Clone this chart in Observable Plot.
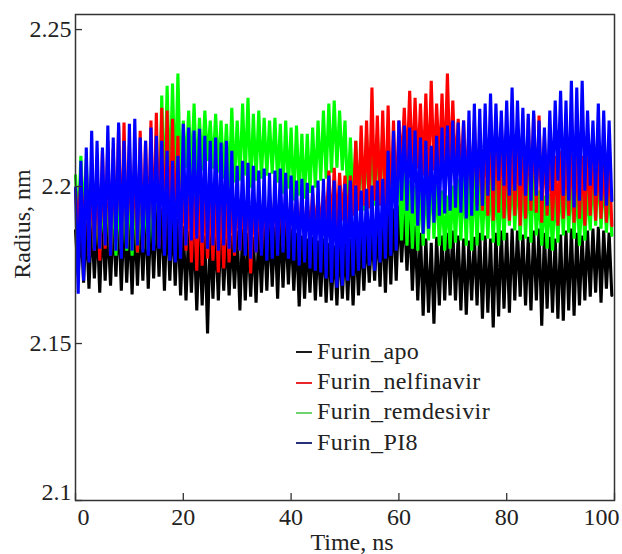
<!DOCTYPE html>
<html><head><meta charset="utf-8">
<script src="https://cdn.jsdelivr.net/npm/d3@7"></script>
<script src="https://cdn.jsdelivr.net/npm/@observablehq/plot@0.6"></script>
<style>
body{margin:0;background:#fff;}
#chart{position:relative;width:622px;height:554px;color:#222;font-family:'Liberation Serif','Times New Roman',serif;}
#chart svg{position:absolute;left:0;top:0;}
.legend{position:absolute;left:296px;top:336px;font-size:24px;letter-spacing:0.4px;}
.legend .row{display:flex;align-items:center;height:30.4px;}
.legend .sw{display:inline-block;width:16px;height:2px;margin-right:5px;margin-top:2px;}
.ylab{position:absolute;left:22px;top:224px;transform:translate(-50%,-50%) rotate(-90deg);font-size:24px;white-space:nowrap;}
.xlab{position:absolute;left:352px;top:542px;transform:translate(-50%,-50%);font-size:24px;white-space:nowrap;}
</style></head><body><div id="chart"></div>
<script>
// Sample times (ns); each sample gives a high and a low excursion
const timeNs = d3.range(0, 100);
const seriesNames = ["Furin_apo", "Furin_nelfinavir", "Furin_remdesivir", "Furin_PI8"];
const seriesColors = ["#000000", "#ff0000", "#00ff00", "#0000ff"];
const legendColors = ["#1a1a1a", "#e8262b", "#6fd46f", "#28307a"];
const xTicks = [0, 20, 40, 60, 80, 100];
const yTicks = [2.1, 2.15, 2.2, 2.25];

const apoHigh = [2.1860,2.1875,2.1885,2.1898,2.1891,2.1907,2.1885,2.1898,2.1917,2.1907,2.1891,2.1898,2.1910,2.1923,2.1917,2.1939,2.1930,2.1923,2.1907,2.1898,
2.1875,2.1860,2.1866,2.1853,2.1844,2.1860,2.1866,2.1872,2.1853,2.1844,2.1860,2.1866,2.1853,2.1840,2.1860,2.1875,2.1885,2.1872,2.1891,2.1879,
2.1866,2.1853,2.1844,2.1834,2.1840,2.1828,2.1834,2.1821,2.1812,2.1828,2.1821,2.1834,2.1844,2.1853,2.1860,2.1866,2.1885,2.1898,2.1917,2.1930,
2.1939,2.1923,2.1907,2.1875,2.1853,2.1834,2.1821,2.1840,2.1844,2.1853,2.1860,2.1844,2.1834,2.1828,2.1840,2.1853,2.1844,2.1834,2.1853,2.1860,
2.1853,2.1866,2.1860,2.1847,2.1840,2.1860,2.1866,2.1853,2.1840,2.1834,2.1847,2.1860,2.1866,2.1853,2.1844,2.1860,2.1866,2.1872,2.1860,2.1853];
const apoLow = [2.1716,2.1694,2.1675,2.1707,2.1662,2.1700,2.1684,2.1713,2.1668,2.1694,2.1656,2.1684,2.1700,2.1675,2.1707,2.1713,2.1668,2.1700,2.1684,2.1653,
2.1637,2.1662,2.1605,2.1621,2.1532,2.1643,2.1637,2.1668,2.1653,2.1675,2.1605,2.1637,2.1649,2.1630,2.1662,2.1668,2.1681,2.1643,2.1678,2.1688,
2.1668,2.1618,2.1643,2.1662,2.1637,2.1649,2.1630,2.1637,2.1621,2.1643,2.1637,2.1621,2.1653,2.1668,2.1694,2.1700,2.1681,2.1662,2.1688,2.1700,
2.1758,2.1732,2.1668,2.1637,2.1589,2.1598,2.1563,2.1621,2.1637,2.1653,2.1637,2.1605,2.1592,2.1637,2.1621,2.1579,2.1598,2.1551,2.1586,2.1611,
2.1598,2.1637,2.1649,2.1621,2.1605,2.1637,2.1557,2.1611,2.1598,2.1579,2.1573,2.1605,2.1589,2.1621,2.1637,2.1649,2.1662,2.1630,2.1675,2.1653];

const nelfHigh = [2.1987,2.2035,2.2066,2.2051,2.2082,2.2114,2.2146,2.2121,2.2194,2.2204,2.2130,2.2114,2.2178,2.2146,2.2210,2.2235,2.2251,2.2242,2.2216,2.2162,
2.2003,2.1987,2.1971,2.1993,2.1980,2.1961,2.1971,2.1987,2.1955,2.1971,2.1980,2.1961,2.1987,2.1971,2.1955,2.1961,2.1971,2.1980,2.1987,2.1971,
2.1971,2.1961,2.1971,2.1955,2.1980,2.1971,2.1987,2.2051,2.2060,2.2044,2.2035,2.2035,2.2146,2.2194,2.2210,2.2315,2.2226,2.2242,2.2258,2.2210,
2.2210,2.2251,2.2305,2.2283,2.2264,2.2296,2.2337,2.2264,2.2296,2.2360,2.2274,2.2216,2.2210,2.2188,2.2210,2.2168,2.2194,2.2232,2.2216,2.2204,
2.2146,2.2162,2.2178,2.2130,2.2216,2.2232,2.2226,2.2162,2.2114,2.2098,2.2114,2.2130,2.2146,2.2114,2.2098,2.2121,2.2130,2.2114,2.2098,2.2114];
const nelfLow = [2.1860,2.1812,2.1780,2.1796,2.1764,2.1802,2.1780,2.1828,2.1796,2.1812,2.1828,2.1790,2.1802,2.1821,2.1834,2.1812,2.1796,2.1828,2.1844,2.1802,
2.1796,2.1758,2.1732,2.1748,2.1770,2.1764,2.1726,2.1739,2.1758,2.1780,2.1796,2.1812,2.1723,2.1790,2.1796,2.1812,2.1828,2.1821,2.1809,2.1828,
2.1834,2.1844,2.1828,2.1853,2.1860,2.1866,2.1875,2.1860,2.1869,2.1891,2.1875,2.1907,2.1923,2.1939,2.1930,2.1955,2.1939,2.1923,2.1917,2.1939,
2.2066,2.2051,2.2044,2.2057,2.2035,2.2025,2.2051,2.2066,2.2044,2.2051,2.2035,2.2019,2.1987,2.1955,2.1939,2.1923,2.1907,2.1891,2.1917,2.1898,
2.1891,2.1907,2.1875,2.1898,2.1923,2.1917,2.1885,2.1907,2.1891,2.1875,2.1898,2.1907,2.1885,2.1898,2.1875,2.1907,2.1891,2.1898,2.1885,2.1875];

const remdHigh = [2.2035,2.2098,2.2089,2.1987,2.1971,2.1980,2.2003,2.1993,2.1971,2.2003,2.2019,2.1987,2.1980,2.1993,2.2012,2.2114,2.2290,2.2321,2.2328,2.2360,
2.2210,2.2242,2.2264,2.2219,2.2242,2.2210,2.2232,2.2210,2.2200,2.2251,2.2210,2.2264,2.2283,2.2232,2.2242,2.2219,2.2210,2.2219,2.2200,2.2210,
2.2188,2.2194,2.2168,2.2168,2.2188,2.2210,2.2242,2.2264,2.2274,2.2242,2.2210,2.2156,2.2146,2.2137,2.2168,2.2178,2.2168,2.2188,2.2156,2.2124,
2.2035,2.2051,2.2019,2.2003,2.2025,2.2035,2.2044,2.2019,2.1987,2.1971,2.2003,2.2025,2.2035,2.2051,2.2057,2.2035,2.2019,2.2044,2.2035,2.2025,
2.2035,2.2044,2.2066,2.2051,2.2057,2.2044,2.1987,2.1971,2.1977,2.2003,2.2035,2.2051,2.2041,2.2019,2.1987,2.2003,2.2051,2.2057,2.2044,2.2003];
const remdLow = [2.1875,2.1891,2.1828,2.1802,2.1796,2.1812,2.1790,2.1780,2.1802,2.1796,2.1780,2.1790,2.1802,2.1796,2.1812,2.1860,2.1955,2.1987,2.1993,2.2003,
2.2060,2.2035,2.2019,2.2051,2.2082,2.2057,2.2044,2.2025,2.1996,2.2012,2.2019,2.2035,2.1996,2.2019,2.2025,2.2035,2.2041,2.2012,2.1977,2.1993,
2.1955,2.1971,2.1961,2.1980,2.1996,2.2019,2.2025,2.2044,2.2060,2.2051,2.1955,2.1939,2.1933,2.1923,2.1933,2.1939,2.1955,2.1961,2.1971,2.1955,
2.1828,2.1812,2.1802,2.1796,2.1812,2.1828,2.1834,2.1812,2.1796,2.1802,2.1821,2.1828,2.1812,2.1796,2.1812,2.1828,2.1834,2.1821,2.1812,2.1828,
2.1875,2.1860,2.1828,2.1834,2.1821,2.1844,2.1812,2.1802,2.1796,2.1821,2.1844,2.1853,2.1834,2.1812,2.1828,2.1860,2.1875,2.1866,2.1853,2.1844];

const pi8High = [2.1996,2.2082,2.2124,2.2178,2.2146,2.2124,2.2194,2.2156,2.2204,2.2146,2.2200,2.2216,2.2156,2.2146,2.2188,2.2162,2.2146,2.2114,2.2082,2.2098,
2.2200,2.2188,2.2178,2.2184,2.2162,2.2146,2.2156,2.2140,2.2146,2.2114,2.2066,2.2082,2.2076,2.2066,2.2051,2.2057,2.2044,2.2051,2.2057,2.2044,
2.2035,2.2019,2.2025,2.2012,2.2003,2.2019,2.2025,2.2035,2.2019,2.2003,2.2009,2.2019,2.2003,2.1987,2.1993,2.2003,2.2019,2.2025,2.2114,2.2178,
2.2210,2.2194,2.2188,2.2178,2.2156,2.2146,2.2130,2.2162,2.2188,2.2194,2.2210,2.2204,2.2210,2.2242,2.2264,2.2248,2.2264,2.2296,2.2264,2.2242,
2.2274,2.2315,2.2274,2.2251,2.2232,2.2242,2.2210,2.2188,2.2242,2.2274,2.2305,2.2274,2.2337,2.2315,2.2337,2.2242,2.2210,2.2264,2.2242,2.2210];
const pi8Low = [2.1659,2.1700,2.1758,2.1796,2.1802,2.1812,2.1780,2.1796,2.1770,2.1802,2.1796,2.1812,2.1790,2.1780,2.1796,2.1802,2.1780,2.1764,2.1758,2.1770,
2.1812,2.1828,2.1834,2.1821,2.1802,2.1812,2.1796,2.1812,2.1802,2.1790,2.1796,2.1780,2.1770,2.1790,2.1780,2.1764,2.1770,2.1780,2.1790,2.1770,
2.1764,2.1748,2.1758,2.1739,2.1732,2.1726,2.1707,2.1694,2.1678,2.1684,2.1700,2.1716,2.1732,2.1739,2.1748,2.1732,2.1758,2.1770,2.1780,2.1796,
2.1955,2.1923,2.1914,2.1875,2.1850,2.1866,2.1885,2.1907,2.1914,2.1923,2.1933,2.1917,2.1898,2.1907,2.1923,2.1939,2.1971,2.1987,2.2019,2.2003,
2.1971,2.1987,2.2003,2.1971,2.1955,2.1971,2.1955,2.1939,2.1987,2.2019,2.1971,2.1955,2.1933,2.1955,2.1987,2.2003,2.1971,2.1955,2.1939,2.1955];

const highs = [apoHigh, nelfHigh, remdHigh, pi8High];
const lows = [apoLow, nelfLow, remdLow, pi8Low];

// zigzag through each sample's high then low excursion
function zigRows(k) {
  const out = [];
  timeNs.forEach((t, i) => {
    out.push({time: t, radius: highs[k][i]});
    out.push({time: t + 0.5, radius: lows[k][i]});
  });
  return out;
}

const SERIF = "'Liberation Serif', 'Times New Roman', serif";
const drawOrder = [0, 2, 1, 3];
const fs = 24;
const fmt = d => String(d);
const plot = Plot.plot({
  width: 622, height: 554,
  marginLeft: 75, marginRight: 8, marginTop: 14, marginBottom: 54,
  x: {domain: [0, 100]},
  y: {domain: [2.1, 2.2548]},
  style: {fontFamily: SERIF, fontSize: fs + "px", color: "#222", background: "transparent"},
  marks: [
    ...drawOrder.map(k => Plot.line(zigRows(k), {x: "time", y: "radius", stroke: seriesColors[k], strokeWidth: 3.1, strokeLinejoin: "miter", strokeMiterlimit: 1})),
    Plot.frame({stroke: "#333", strokeWidth: 1.5}),
    Plot.tickX(xTicks, {x: d => d, insetTop: 479, stroke: "#333", strokeWidth: 1.3}),
    Plot.tickY(yTicks, {y: d => d, insetRight: 532, stroke: "#333", strokeWidth: 1.3}),
    Plot.axisX(xTicks.slice(1, -1), {tickSize: 0, tickPadding: 7, label: null, fontSize: fs, tickFormat: fmt}),
    Plot.axisX(xTicks.slice(0, 1), {tickSize: 0, tickPadding: 7, label: null, fontSize: fs, dx: 8, tickFormat: fmt}),
    Plot.axisX(xTicks.slice(-1), {tickSize: 0, tickPadding: 7, label: null, fontSize: fs, dx: -13, tickFormat: fmt}),
    Plot.axisY(yTicks.slice(1), {tickSize: 0, tickPadding: 4, label: null, fontSize: fs, tickFormat: fmt}),
    Plot.axisY(yTicks.slice(0, 1), {tickSize: 0, tickPadding: 4, label: null, fontSize: fs, dy: -8, tickFormat: fmt})
  ]
});
const chart = document.getElementById("chart");
chart.appendChild(plot);

const leg = document.createElement("div");
leg.className = "legend";
seriesNames.forEach((name, k) => {
  const row = document.createElement("div");
  row.className = "row";
  const sw = document.createElement("span");
  sw.className = "sw";
  sw.style.background = legendColors[k];
  const tx = document.createElement("span");
  tx.textContent = name;
  row.appendChild(sw); row.appendChild(tx);
  leg.appendChild(row);
});
chart.appendChild(leg);

const yl = document.createElement("div");
yl.className = "ylab"; yl.textContent = "Radius, nm";
chart.appendChild(yl);
const xl = document.createElement("div");
xl.className = "xlab"; xl.textContent = "Time, ns";
chart.appendChild(xl);
</script></body></html>
